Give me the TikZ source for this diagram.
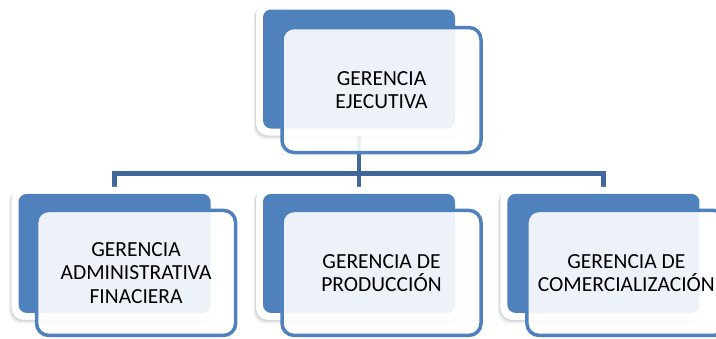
\documentclass[tikz,border=0pt]{standalone}
\usepackage{fontspec}
\setmainfont{Carlito}
\usepackage{tikz}
\usetikzlibrary{positioning, shadows, backgrounds}

\definecolor{orgblue}{HTML}{4F81BD}
\definecolor{orgline}{HTML}{41689B}

\begin{document}
\begin{tikzpicture}[x=1pt, y=1pt]
            % Block styles
            \tikzstyle{plate} = [rectangle, rounded corners=12pt, fill=white, minimum width=206pt, minimum height=133pt, inner sep=0pt, drop shadow={shadow xshift=-2.5pt, shadow yshift=-3.5pt, opacity=0.07, fill=black}, drop shadow={shadow xshift=-1pt, shadow yshift=-1.5pt, opacity=0.1, fill=black}]
            \tikzstyle{back} = [rectangle, rounded corners=8pt, fill=orgblue, minimum width=192pt, minimum height=119pt, inner sep=0pt]
            \tikzstyle{card} = [rectangle, rounded corners=12pt, draw=orgblue, line width=3.5pt, fill=white, fill opacity=0.9, text opacity=1, minimum width=199pt, minimum height=125pt, inner sep=0pt, align=center, font=\fontsize{21.5}{23.5}\selectfont]
            \tikzstyle{link} = [draw=orgline, line width=4.5pt]
            \useasboundingbox (0,0) rectangle (716,-338);
            % Top level
            \node[plate] (exec_plate) at (359,-69) {};
            \node[back] (exec_back) at (exec_plate) {};
            \node[card, xshift=22.5pt, yshift=-21pt] (exec) at (exec_back) {GERENCIA\\EJECUTIVA};
            % Second level
            \node[plate, below=51pt of exec_plate] (prod_plate) {};
            \node[plate, left=38pt of prod_plate] (admin_plate) {};
            \node[plate, right=38pt of prod_plate] (comm_plate) {};
            \node[back] (admin_back) at (admin_plate) {};
            \node[card, xshift=21.5pt, yshift=-19.5pt] (admin) at (admin_back) {GERENCIA\\ADMINISTRATIVA\\FINACIERA};
            \node[back] (prod_back) at (prod_plate) {};
            \node[card, xshift=22.5pt, yshift=-19.5pt] (prod) at (prod_back) {GERENCIA DE\\PRODUCCIÓN};
            \node[back] (comm_back) at (comm_plate) {};
            \node[card, xshift=23pt, yshift=-19.5pt] (comm) at (comm_back) {GERENCIA DE\\COMERCIALIZACIÓN};
            % Connections
            \coordinate[below=38pt of exec_plate] (bus);
            \begin{scope}[on background layer]
            \draw[link] (exec_plate) -- (prod_plate);
            \draw[link] (admin_plate) |- (bus) -| (comm_plate);
            \end{scope}
        \end{tikzpicture}
\end{document}
